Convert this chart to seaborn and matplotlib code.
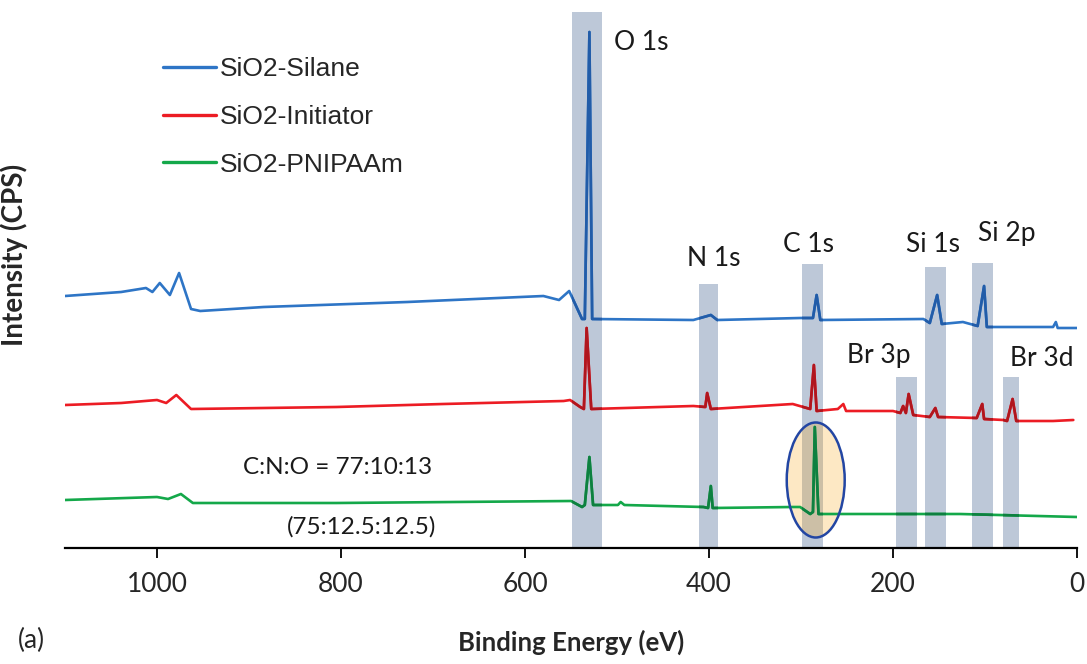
import numpy as np
import pandas as pd
import matplotlib
matplotlib.use("Agg")
import matplotlib.pyplot as plt
import seaborn as sns
from matplotlib.patches import Ellipse
from matplotlib.path import Path

# XPS survey spectra
# binding energy (eV) and intensity in arbitrary units (traces are offset)
silane_ev = [1100, 1039, 1012, 1005, 997, 986, 976, 963, 953, 884, 728, 580, 563, 552,
             538, 535, 530, 527, 417, 398, 391, 301, 287, 283, 279, 167, 160, 152, 147,
             124, 108, 101, 98, 26, 23, 21, 0]
silane_int = [252, 256, 260, 256, 265, 253, 275, 239, 237, 241, 246, 252, 248, 257,
              229, 229, 516, 229, 228, 233, 228, 230, 230, 253, 228, 229, 225, 253, 224,
              226, 222, 262, 221, 221, 226, 220, 220]

initiator_ev = [1100, 1039, 1000, 990, 979, 963, 805, 689, 558, 551, 540, 536, 533, 528,
                417, 404, 402, 398, 309, 290, 286, 283, 260, 254, 251, 200, 192, 189, 186,
                183, 178, 160, 154, 151, 109, 103, 101, 80, 76, 70, 66, 26, 4]
initiator_int = [143, 145, 148, 145, 153, 139, 141, 144, 147, 148, 141, 139, 220, 139,
                 142, 141, 155, 139, 144, 139, 183, 137, 139, 144, 137, 137, 135, 142, 135,
                 154, 133, 131, 140, 131, 130, 144, 129, 128, 127, 149, 127, 127, 128]

pnipaam_ev = [1100, 1000, 988, 974, 961, 805, 550, 538, 535, 530, 526, 499, 496, 492,
              406, 401, 398, 396, 309, 301, 290, 287, 285, 281, 236, 127, 0]
pnipaam_int = [48, 51, 49, 54, 45, 45, 47, 41, 43, 91, 43, 43, 46, 43,
               41, 40, 62, 40, 41, 41, 34, 36, 121, 34, 34, 34, 31]

sample_names = ["SiO2-Silane", "SiO2-Initiator", "SiO2-PNIPAAm"]
line_colors = ["#2e75c6", "#ec1c24", "#14a84a"]
dark_colors = ["#225ca8", "#b0161e", "#0e8040"]

# shaded peak regions
band_names = ["O 1s", "N 1s", "C 1s", "Br 3p", "Si 1s", "Si 2p", "Br 3d"]
band_center = [532.5, 400.5, 287.5, 185.5, 153.5, 102.5, 71.5]
band_width = [33, 21, 23, 23, 23, 23, 17]
band_top = [536, 264, 284, 171, 281, 285, 171]

# peak labels
label_ev = [474, 395, 292, 216, 157, 76, 38]
label_int = [506, 290, 303, 193, 304, 315, 189]

# x axis
x_ticks = [1000, 800, 600, 400, 200, 0]

# ---------------------------------------------------------------------------
sns.set_theme(style="white")
plt.rcParams["font.family"] = ["Lato", "DejaVu Sans"]

df = pd.concat([
    pd.DataFrame({"eV": silane_ev, "intensity": silane_int, "sample": sample_names[0]}),
    pd.DataFrame({"eV": initiator_ev, "intensity": initiator_int, "sample": sample_names[1]}),
    pd.DataFrame({"eV": pnipaam_ev, "intensity": pnipaam_int, "sample": sample_names[2]}),
])

fig = plt.figure(figsize=(10.87, 6.64), dpi=100)
ax = fig.add_axes([65 / 1087, 1 - 548 / 664, 1012 / 1087, 536 / 664])

# bands under the spectra
ax.bar(band_center, band_top, width=band_width, color="#bdc8d8", zorder=1, linewidth=0)

# highlight of the C 1s peak of the brush
ax.add_patch(Ellipse((284, 68), width=63, height=115, facecolor="#faa514", alpha=0.25,
                     edgecolor="none", zorder=2))
ax.add_patch(Ellipse((284, 68), width=63, height=115, facecolor="none",
                     edgecolor="#2346a3", linewidth=1.8, zorder=5))

sns.lineplot(data=df, x="eV", y="intensity", hue="sample", palette=line_colors,
             hue_order=sample_names, estimator=None, linewidth=1.9, ax=ax, zorder=3)

# darker trace inside the bands (the bands tint the lines)
band_paths = [Path([(c - w / 2, 0), (c + w / 2, 0), (c + w / 2, h), (c - w / 2, h), (c - w / 2, 0)])
              for c, w, h in zip(band_center, band_width, band_top)]
clip = Path.make_compound_path(*band_paths)
for (xs, ys), col in zip([(silane_ev, silane_int), (initiator_ev, initiator_int),
                          (pnipaam_ev, pnipaam_int)], dark_colors):
    ln, = ax.plot(xs, ys, color=col, linewidth=1.9, zorder=4)
    ln.set_clip_path(clip, ax.transData)

# peak labels
for name, x, y in zip(band_names, label_ev, label_int):
    ax.text(x, y, name, fontsize=19, ha="center", va="center", color="#1a1a1a", zorder=6)

ax.text(804, 80, "C:N:O = 77:10:13", fontsize=17.5, ha="center", va="center", color="#1a1a1a")
ax.text(778, 21, "(75:12.5:12.5)", fontsize=17.5, ha="center", va="center", color="#1a1a1a")

ax.set_xlim(1100, 0)
ax.set_ylim(0, 536)
ax.set_xticks(x_ticks)
ax.set_xticklabels([str(t) for t in x_ticks])
ax.set_yticks([])
ax.tick_params(axis="x", direction="out", length=7, width=1.3, color="black",
               labelsize=19, pad=10, bottom=True)
for side in ["top", "right", "left"]:
    ax.spines[side].set_visible(False)
ax.spines["bottom"].set_color("black")
ax.spines["bottom"].set_linewidth(1.6)

ax.set_xlabel("Binding Energy (eV)", fontsize=18.5, fontweight="bold", labelpad=24)
ax.set_ylabel("Intensity (CPS)", fontsize=20, fontweight="bold")
ax.yaxis.set_label_coords(-0.037, 0.547)

handles, labels = ax.get_legend_handles_labels()
leg = ax.legend(handles[:3], labels[:3], loc="upper left", bbox_to_anchor=(163 / 1087, 1 - 57 / 664),
                bbox_transform=fig.transFigure, frameon=False,
                prop={"family": "Liberation Sans", "size": 19},
                handlelength=2.0, handletextpad=0.15, labelspacing=0.9,
                borderpad=0, borderaxespad=0)
for h in leg.get_lines():
    h.set_linewidth(2.4)

fig.text(18 / 1087, 1 - 640 / 664, "(a)", fontsize=19, ha="left", va="center")

fig.savefig("out.png", dpi=100)
